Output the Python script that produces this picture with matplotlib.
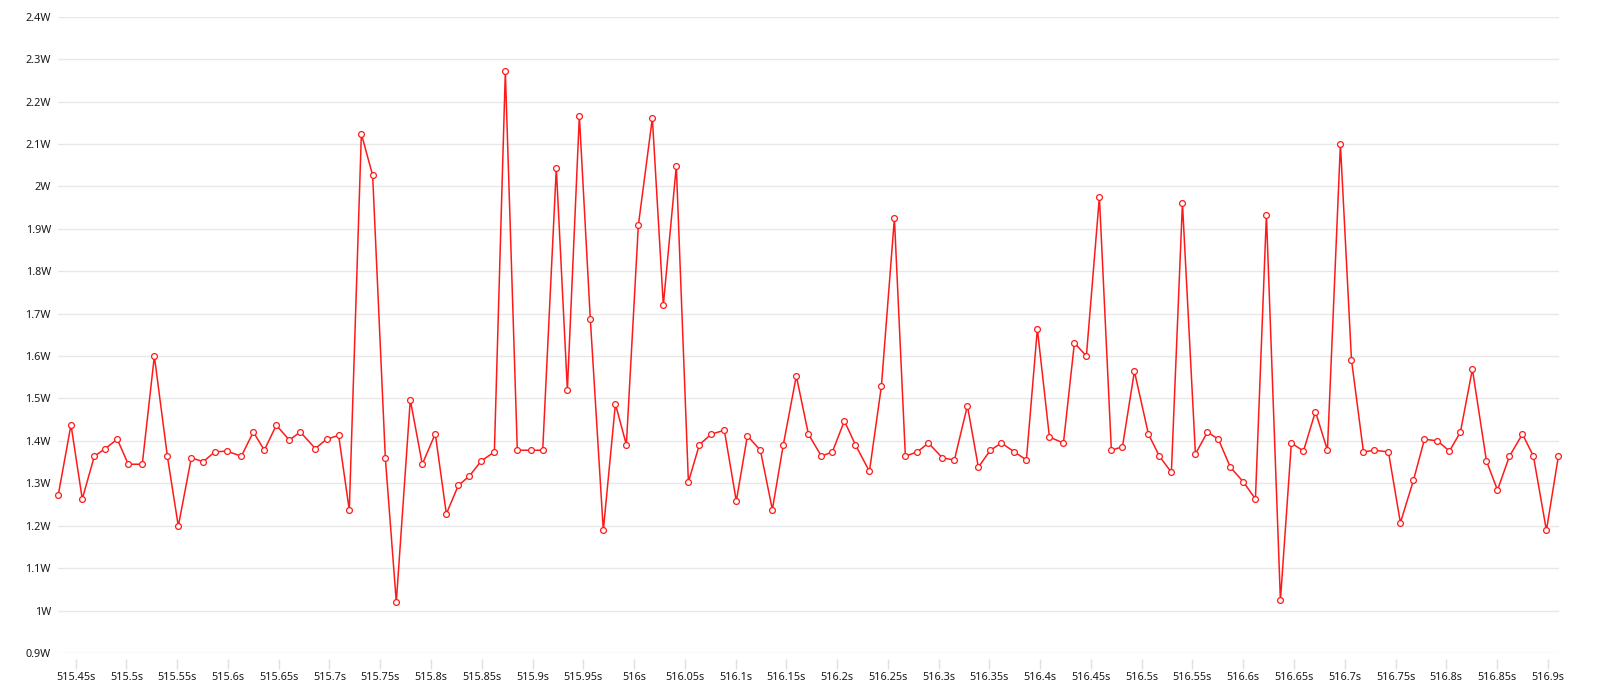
import matplotlib
matplotlib.use("Agg")
import matplotlib.pyplot as plt
from matplotlib.ticker import MultipleLocator, FuncFormatter
import numpy as np

plt.rcParams['font.family'] = ['Noto Sans', 'DejaVu Sans']

# sample times (s)
times = [
    515.4329, 515.4454, 515.4565, 515.4684, 515.4792, 515.4910, 515.5018, 515.5156,
    515.5275, 515.5403, 515.5511, 515.5639, 515.5757, 515.5869, 515.5987, 515.6132,
    515.6250, 515.6358, 515.6476, 515.6604, 515.6713, 515.6860, 515.6972, 515.7090,
    515.7195, 515.7314, 515.7425, 515.7550, 515.7658, 515.7796, 515.7914, 515.8042,
    515.8151, 515.8269, 515.8377, 515.8496, 515.8624, 515.8732, 515.8850, 515.8988,
    515.9100, 515.9234, 515.9343, 515.9461, 515.9569, 515.9697, 515.9816, 515.9924,
    516.0042, 516.0180, 516.0288, 516.0416, 516.0535, 516.0643, 516.0761, 516.0889,
    516.1007, 516.1116, 516.1244, 516.1362, 516.1470, 516.1598, 516.1717, 516.1845,
    516.1953, 516.2071, 516.2180, 516.2318, 516.2436, 516.2564, 516.2672, 516.2790,
    516.2899, 516.3037, 516.3155, 516.3283, 516.3391, 516.3509, 516.3618, 516.3746,
    516.3864, 516.3972, 516.4091, 516.4229, 516.4337, 516.4455, 516.4583, 516.4701,
    516.4810, 516.4928, 516.5066, 516.5174, 516.5292, 516.5401, 516.5529, 516.5647,
    516.5755, 516.5873, 516.6002, 516.6120, 516.6228, 516.6366, 516.6474, 516.6593,
    516.6711, 516.6829, 516.6957, 516.7066, 516.7184, 516.7292, 516.7430, 516.7548,
    516.7676, 516.7785, 516.7913, 516.8031, 516.8139, 516.8257, 516.8395, 516.8504,
    516.8622, 516.8750, 516.8858, 516.8986, 516.9104, 516.9222,
]

# power (W)
power = [
    1.273, 1.438, 1.263, 1.364, 1.382, 1.404, 1.345, 1.345,
    1.600, 1.364, 1.199, 1.360, 1.351, 1.374, 1.376, 1.364,
    1.421, 1.378, 1.437, 1.402, 1.421, 1.382, 1.404, 1.413,
    1.237, 2.124, 2.026, 1.360, 1.020, 1.497, 1.345, 1.417,
    1.228, 1.295, 1.317, 1.353, 1.374, 2.271, 1.378, 1.378,
    1.378, 2.043, 1.520, 2.166, 1.687, 1.189, 1.487, 1.391,
    1.908, 2.161, 1.720, 2.048, 1.303, 1.391, 1.416, 1.425,
    1.258, 1.412, 1.378, 1.238, 1.391, 1.553, 1.416, 1.364,
    1.374, 1.447, 1.391, 1.328, 1.529, 1.925, 1.364, 1.374,
    1.395, 1.360, 1.355, 1.483, 1.338, 1.378, 1.395, 1.374,
    1.355, 1.664, 1.409, 1.395, 1.631, 1.600, 1.975, 1.378,
    1.386, 1.564, 1.416, 1.364, 1.326, 1.961, 1.369, 1.421,
    1.404, 1.338, 1.303, 1.263, 1.933, 1.024, 1.395, 1.376,
    1.469, 1.378, 2.100, 1.591, 1.374, 1.378, 1.374, 1.207,
    1.307, 1.404, 1.400, 1.376, 1.421, 1.569, 1.353, 1.284,
    1.364, 1.416, 1.364, 1.189, 1.364, 1.430,
]

x_min, x_max = 515.4326, 516.9105
y_min, y_max = 0.9, 2.4

t = np.array(times)
p = np.array(power)

fig = plt.figure(figsize=(16, 7), dpi=100)
ax = fig.add_axes([58 / 1600, (700 - 653) / 700, (1558.5 - 58) / 1600, (653 - 16.7) / 700])

ax.plot(t, p, color='#ff1a1a', lw=1.1, zorder=3)
vis = (t >= x_min - 1e-6) & (t <= x_max + 1e-6)
ax.plot(t[vis], p[vis], ls='none', marker='o', ms=4.2, mfc='white', mec='#ff1a1a',
        mew=0.9, zorder=4, clip_on=False)

ax.set_xlim(x_min, x_max)
ax.set_ylim(y_min, y_max)

ax.yaxis.set_major_locator(MultipleLocator(0.1))
ax.xaxis.set_major_locator(MultipleLocator(0.05))
ax.yaxis.set_major_formatter(FuncFormatter(lambda v, pos: f"{round(v, 2):g}W"))
ax.xaxis.set_major_formatter(FuncFormatter(lambda v, pos: f"{round(v, 2):g}s"))

ax.grid(axis='y', color='#e8e8e8', lw=1)
ax.set_axisbelow(True)
# ticks hang a little below the baseline, detached from it
ax.spines['bottom'].set_position(('outward', 4))
for s in ax.spines.values():
    s.set_visible(False)

ax.tick_params(axis='y', length=0, pad=5, labelsize=7.8, labelcolor='#1a1a1a')
ax.tick_params(axis='x', length=7.5, width=1, color='#e0e0e0', pad=2, labelsize=7.8,
               labelcolor='#1a1a1a', direction='out')

fig.savefig('out.png', dpi=100, facecolor='white')
